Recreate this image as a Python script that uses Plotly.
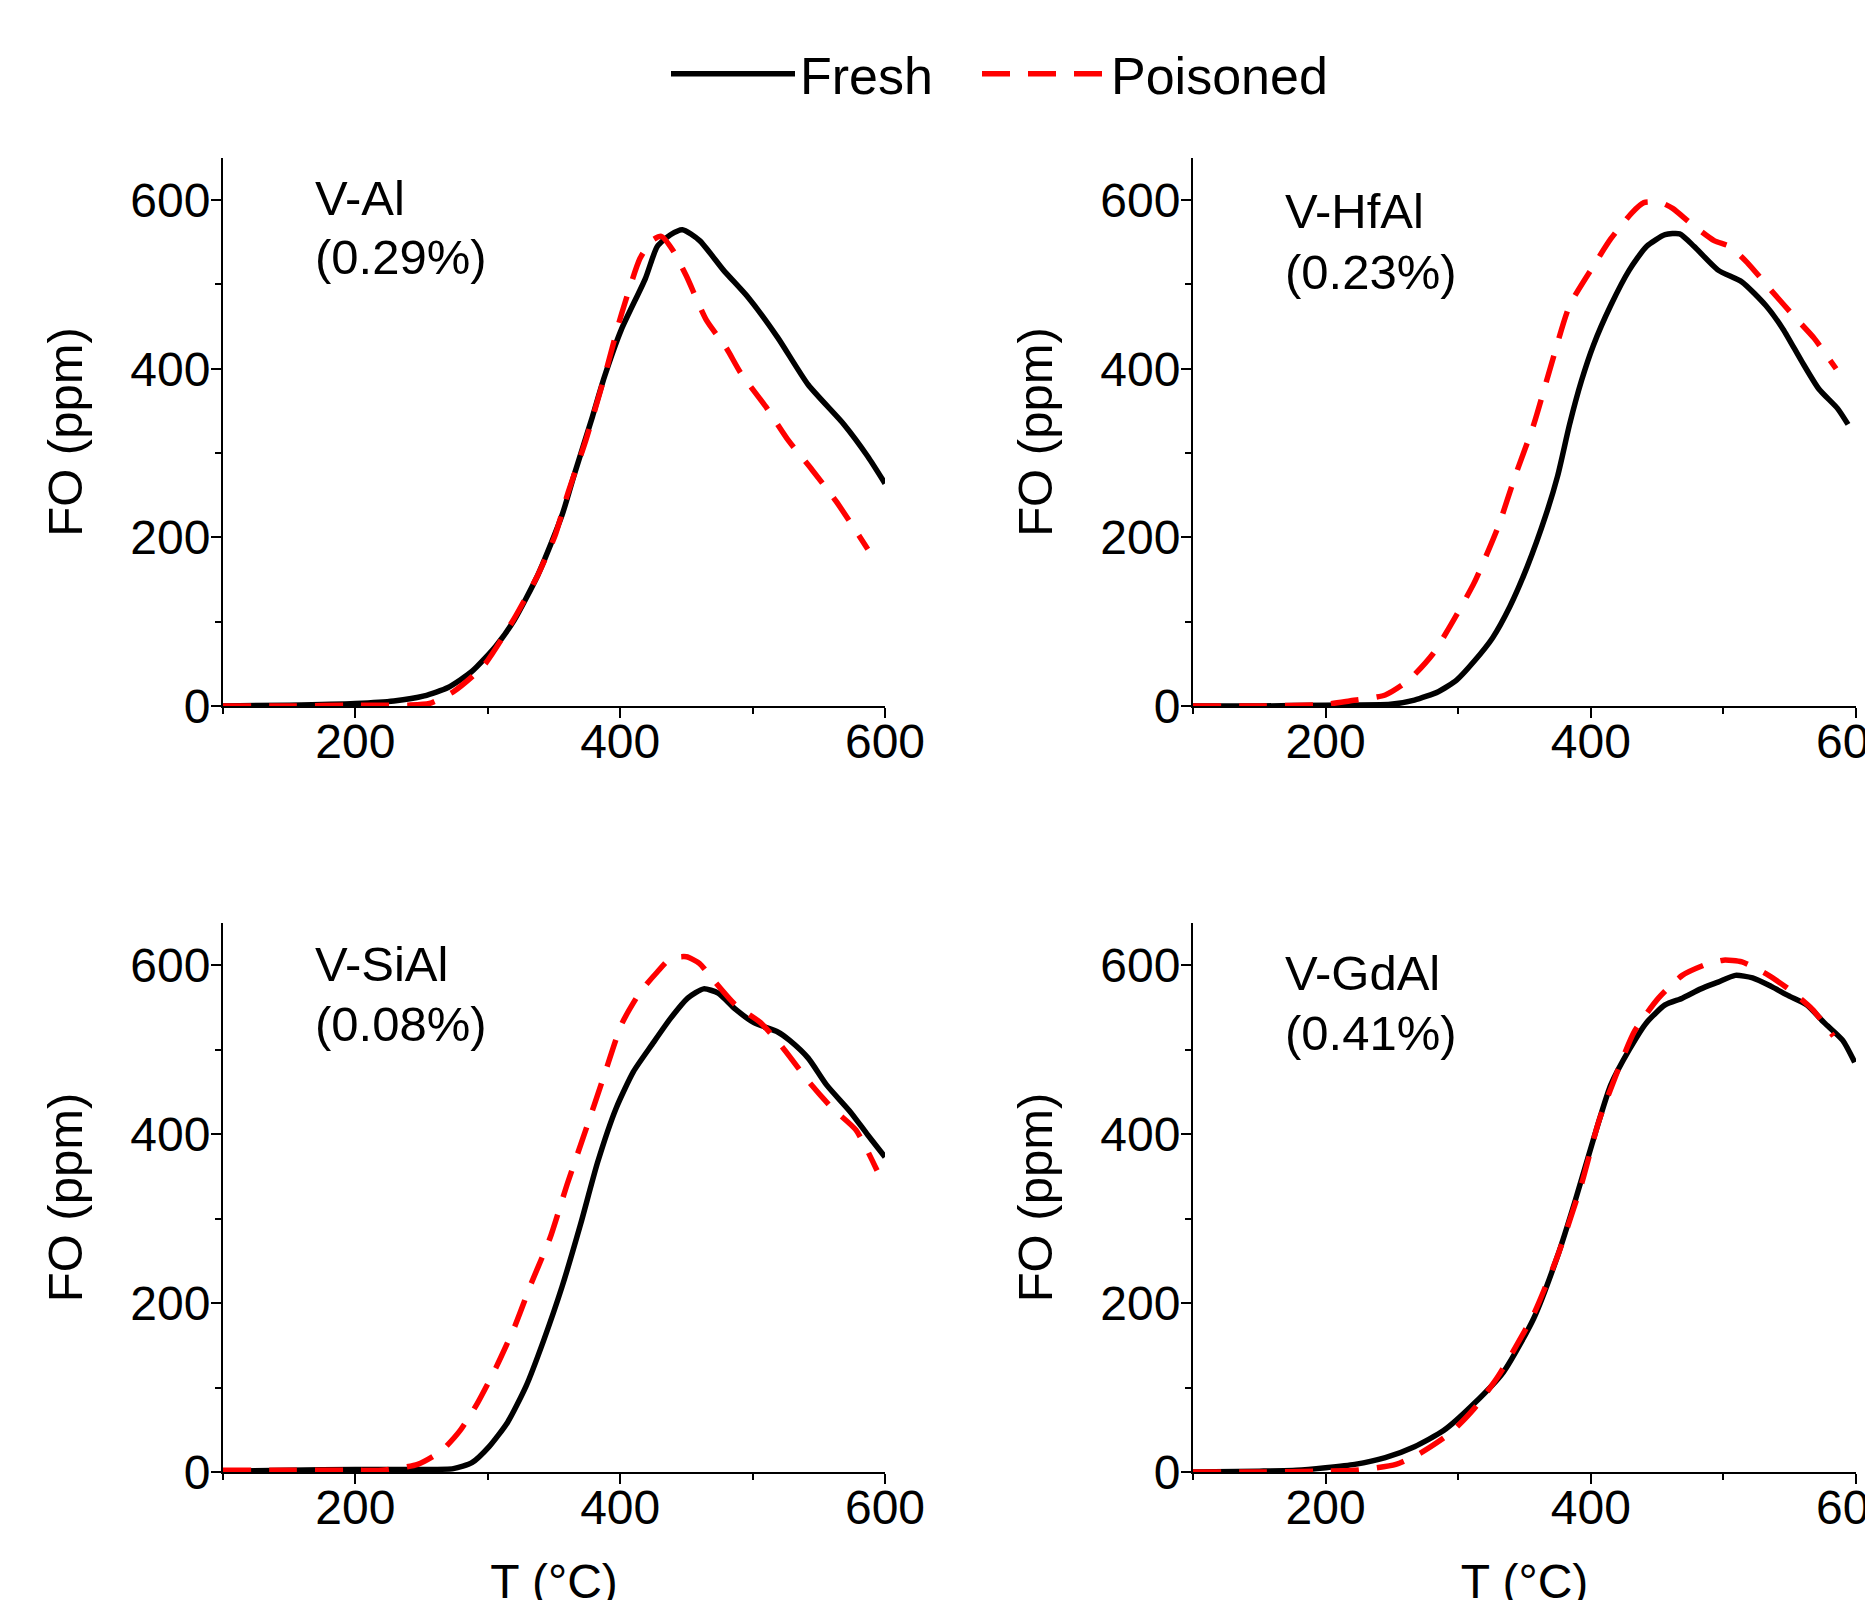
import plotly.graph_objects as go

# ---------------- data ----------------
panel_names = ["V-Al", "V-HfAl", "V-SiAl", "V-GdAl"]
panel_losses = ["(0.29%)", "(0.23%)", "(0.08%)", "(0.41%)"]
series_names = ["Fresh", "Poisoned"]

t_al_fresh = [100, 150, 200, 229, 252, 270, 288, 306, 320, 338, 356, 365, 379, 388, 401, 419, 428, 438, 447, 460, 478, 497, 519, 542, 569, 587, 600]
fo_al_fresh = [0, 1, 3, 6, 12, 22, 41, 71, 102, 156, 226, 273, 343, 390, 447, 507, 545, 559, 565, 552, 517, 484, 437, 381, 334, 296, 264]
t_al_pois = [100, 150, 200, 240, 256, 274, 297, 320, 338, 351, 360, 374, 388, 401, 415, 424, 431, 440, 450, 465, 480, 491, 510, 527, 545, 563, 587]
fo_al_pois = [0, 0, 1, 1, 3, 17, 48, 104, 156, 203, 250, 315, 390, 465, 531, 552, 557, 540, 510, 458, 425, 395, 355, 315, 280, 243, 186]

t_hf_fresh = [100, 150, 200, 249, 267, 285, 299, 312, 326, 339, 352, 366, 375, 384, 393, 402, 415, 429, 442, 456, 467, 478, 496, 514, 532, 545, 559, 572, 586, 594]
fo_hf_fresh = [0, 0, 1, 2, 7, 17, 31, 53, 81, 118, 165, 226, 273, 334, 386, 428, 475, 517, 545, 559, 560, 545, 517, 503, 475, 447, 409, 376, 353, 334]
t_hf_pois = [100, 150, 200, 218, 245, 263, 281, 294, 312, 330, 343, 357, 370, 384, 402, 415, 431, 440, 453, 462, 475, 493, 505, 518, 536, 554, 568, 585]
fo_hf_pois = [0, 0, 2, 6, 13, 31, 62, 95, 146, 212, 273, 334, 404, 475, 522, 554, 585, 597, 597, 590, 573, 552, 545, 526, 493, 461, 437, 400]

t_si_fresh = [100, 150, 200, 250, 274, 288, 301, 315, 329, 342, 356, 370, 383, 397, 410, 424, 438, 451, 463, 474, 487, 501, 519, 528, 542, 556, 574, 587, 600]
fo_si_fresh = [1, 2, 3, 3, 4, 11, 30, 59, 102, 155, 219, 293, 367, 431, 474, 506, 537, 561, 572, 567, 548, 532, 521, 511, 490, 458, 426, 399, 373]
t_si_pois = [100, 150, 200, 220, 247, 265, 279, 292, 306, 320, 333, 347, 360, 374, 388, 401, 415, 428, 438, 450, 460, 469, 487, 506, 524, 542, 560, 578, 594]
fo_si_pois = [2, 2, 2, 2, 9, 25, 49, 81, 123, 171, 224, 277, 341, 405, 470, 530, 568, 592, 608, 610, 602, 585, 553, 532, 500, 463, 431, 405, 357]

t_gd_fresh = [100, 150, 178, 200, 222, 245, 267, 289, 312, 334, 357, 375, 388, 402, 415, 429, 442, 456, 469, 483, 496, 509, 522, 536, 549, 563, 576, 590, 599]
fo_gd_fresh = [0, 1, 2, 5, 9, 17, 30, 49, 81, 118, 182, 256, 320, 394, 458, 500, 532, 553, 561, 572, 580, 588, 585, 575, 564, 553, 532, 511, 485]
t_gd_pois = [100, 150, 200, 222, 253, 271, 294, 312, 330, 357, 375, 393, 406, 420, 433, 451, 469, 487, 500, 514, 532, 549, 567, 583]
fo_gd_pois = [0, 0, 1, 2, 9, 22, 46, 75, 113, 187, 256, 341, 415, 474, 522, 561, 588, 601, 606, 604, 590, 572, 548, 516]

x_ticks = [200, 400, 600]
y_ticks = [0, 200, 400, 600]

# ---------------- figure ----------------
FONT = "Arial, 'Liberation Sans', sans-serif"
W, H = 1873, 1600
OFF = 8  # page body margin offset compensation (px)
fresh_sets = [(t_al_fresh, fo_al_fresh), (t_hf_fresh, fo_hf_fresh), (t_si_fresh, fo_si_fresh), (t_gd_fresh, fo_gd_fresh)]
pois_sets = [(t_al_pois, fo_al_pois), (t_hf_pois, fo_hf_pois), (t_si_pois, fo_si_pois), (t_gd_pois, fo_gd_pois)]

fig = go.Figure()
for i in range(4):
    xa = "x" if i == 0 else f"x{i+1}"
    ya = "y" if i == 0 else f"y{i+1}"
    fig.add_trace(go.Scatter(
        x=fresh_sets[i][0], y=fresh_sets[i][1], mode="lines", name=series_names[0],
        legendgroup="fresh", showlegend=(i == 0), legend="legend",
        line=dict(color="black", width=5.5, shape="spline", smoothing=0.6),
        xaxis=xa, yaxis=ya))
for i in range(4):
    xa = "x" if i == 0 else f"x{i+1}"
    ya = "y" if i == 0 else f"y{i+1}"
    fig.add_trace(go.Scatter(
        x=pois_sets[i][0], y=pois_sets[i][1], mode="lines", name=series_names[1],
        legendgroup="pois", showlegend=(i == 0), legend="legend2",
        line=dict(color="#ff0000", width=5.5, dash="28px,18px", shape="spline", smoothing=0.6),
        xaxis=xa, yaxis=ya))

def xdom(a, b):
    return [(a - OFF) / W, (b - OFF) / W]

def ydom(top, bottom):
    return [1 - (bottom - OFF) / H, 1 - (top - OFF) / H]

x_domains = [xdom(223, 885), xdom(1193, 1856), xdom(223, 885), xdom(1193, 1856)]
y_domains = [ydom(158, 706), ydom(158, 706), ydom(923, 1472), ydom(923, 1472)]

leg_common = dict(orientation="h", xanchor="left", y=1 - (74 - OFF) / H, yanchor="middle",
                  font=dict(size=52, family=FONT), bgcolor="rgba(0,0,0,0)")
layout = dict(
    width=W, height=H, autosize=False,
    margin=dict(l=0, r=0, t=0, b=0),
    paper_bgcolor="white", plot_bgcolor="white",
    font=dict(family=FONT, color="black", size=48),
    showlegend=True,
    legend=dict(x=(666 - OFF) / W, itemwidth=124, **leg_common),
    legend2=dict(x=(977 - OFF) / W, itemwidth=124, **leg_common),
)

for i in range(4):
    xk = "xaxis" if i == 0 else f"xaxis{i+1}"
    yk = "yaxis" if i == 0 else f"yaxis{i+1}"
    ya = "y" if i == 0 else f"y{i+1}"
    xa = "x" if i == 0 else f"x{i+1}"
    xax = dict(
        domain=x_domains[i], anchor=ya, range=[100, 600],
        tickmode="array", tickvals=x_ticks, ticktext=[str(v) for v in x_ticks],
        ticks="outside", ticklen=10, tickwidth=2, tickcolor="black",
        minor=dict(tickmode="array", tickvals=[100, 300, 500], ticks="outside", ticklen=6, tickwidth=2, tickcolor="black", showgrid=False),
        showline=True, linewidth=2, linecolor="black", showgrid=False, zeroline=False,
        tickfont=dict(size=48, family=FONT), ticklabeloverflow="allow", automargin=False,
        ticklabelstandoff=-18,
    )
    if i >= 2:
        xax["title"] = dict(text="T (°C)", font=dict(size=48, family=FONT), standoff=44)
    yax = dict(
        domain=y_domains[i], anchor=xa, range=[0, 650],
        tickmode="array", tickvals=y_ticks, ticktext=[str(v) for v in y_ticks],
        ticks="outside", ticklen=10, tickwidth=2, tickcolor="black",
        minor=dict(tickmode="array", tickvals=[100, 300, 500], ticks="outside", ticklen=6, tickwidth=2, tickcolor="black", showgrid=False),
        showline=True, linewidth=2, linecolor="black", showgrid=False, zeroline=False,
        tickfont=dict(size=48, family=FONT), ticklabeloverflow="allow", automargin=False,
        ticklabelstandoff=-9,
        title=dict(text="FO (ppm)", font=dict(size=49, family=FONT), standoff=32),
    )
    layout[xk] = xax
    layout[yk] = yax

fig.update_layout(**layout)

name_y = [603, 587, 601, 591]
loss_y = [533, 515, 530, 520]
for i in range(4):
    xa = "x" if i == 0 else f"x{i+1}"
    ya = "y" if i == 0 else f"y{i+1}"
    fig.add_annotation(
        x=168, y=name_y[i], xref=xa, yref=ya, xanchor="left", yanchor="middle",
        text=panel_names[i], align="left", showarrow=False,
        font=dict(size=49, family=FONT, color="black"))
    fig.add_annotation(
        x=168, y=loss_y[i], xref=xa, yref=ya, xanchor="left", yanchor="middle",
        text=panel_losses[i], align="left", showarrow=False,
        font=dict(size=49, family=FONT, color="black"))

fig.write_html("out.html")
